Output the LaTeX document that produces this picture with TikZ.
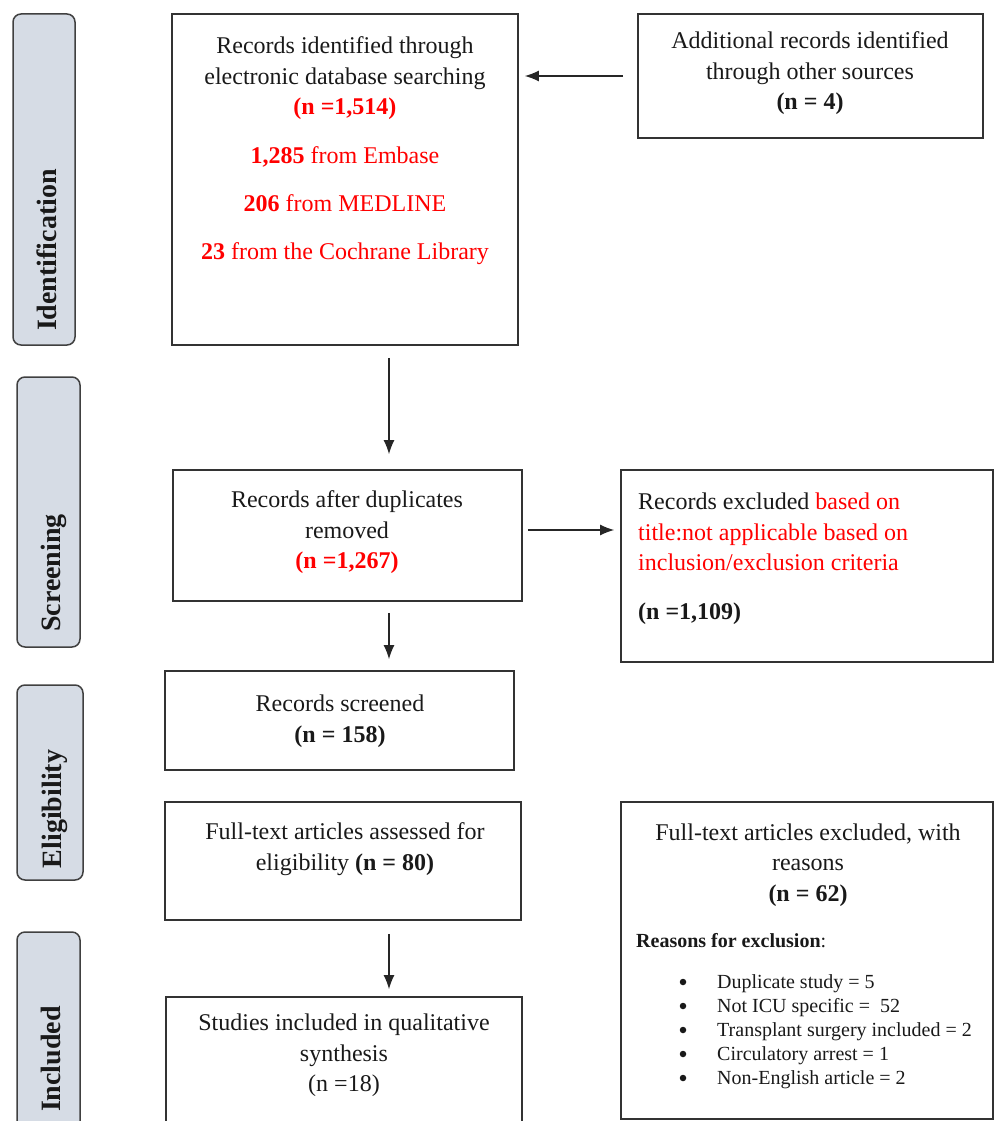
\documentclass[tikz,border=0pt]{standalone}
\usepackage{fontspec}
\setmainfont{Liberation Serif}
\usetikzlibrary{arrows.meta}
\definecolor{tabfill}{HTML}{D6DCE5}
\begin{document}
\begin{tikzpicture}
[
 x=1pt, y=-1pt,
 inner sep=0pt,
 TAB/.style={rectangle, rounded corners=8pt, draw=black!75, fill=tabfill, line width=1.5pt},
 BOX/.style={rectangle, draw=black!80, line width=1.6pt},
 TXT/.style={align=center, font=\fontsize{24}{30.5}\selectfont, text=black!90},
 TABTXT/.style={rotate=90, font=\fontsize{28}{34}\selectfont\bfseries, text=black!90},
 SMALL/.style={anchor=west, font=\fontsize{20}{24}\selectfont, text=black!90},
 DOT/.style={circle, fill=black!90, minimum size=6.5pt},
 ARR/.style={-{Latex[length=14pt,width=11pt]}, line width=1.4pt, draw=black!85},
]
%
\useasboundingbox (0,0) rectangle (994,1121);
\clip (0,0) rectangle (994,1121);
%
\node [TAB, minimum width=62pt, minimum height=331pt]  (tabI) at ( 44, 179.5) {};
\node [TAB, minimum width=63pt, minimum height=270pt]  (tabS) at ( 48.5, 512) {};
\node [TAB, minimum width=66pt, minimum height=195pt]  (tabE) at ( 50, 782.5) {};
\node [TAB, minimum width=63pt, minimum height=210pt]  (tabN) at ( 48.5, 1037) {};
%
\node [TABTXT]  (lblI) at ( 47, 250)  {Identification};
\node [TABTXT]  (lblS) at ( 54, 573)  {Screening};
\node [TABTXT]  (lblE) at ( 55, 809)  {Eligibility};
\node [TABTXT]  (lblN) at ( 51, 1059) {Included};
%
\node [BOX, minimum width=346pt, minimum height=331pt]  (ident)  at ( 345, 179.5)  {};
\node [BOX, minimum width=345pt, minimum height=124pt]  (other)  at ( 810.5, 76)   {};
\node [BOX, minimum width=349pt, minimum height=131pt]  (dedup)  at ( 347.5, 535.5) {};
\node [BOX, minimum width=372pt, minimum height=192pt]  (excl)   at ( 807, 566)     {};
\node [BOX, minimum width=349pt, minimum height=99pt]   (screen) at ( 339.5, 720.5) {};
\node [BOX, minimum width=356pt, minimum height=118pt]  (full)   at ( 343, 861)     {};
\node [BOX, minimum width=356pt, minimum height=143pt]  (incl)   at ( 344, 1068.5)  {};
\node [BOX, minimum width=372pt, minimum height=317pt]  (fullex) at ( 807, 960.5)   {};
%
\node [TXT]  (identT)  at ( 345, 150.5)  {Records identified through\\electronic database searching\\
   \textcolor{red}{\bfseries (n =1,514)}\\[18pt]
   \textcolor{red}{\bfseries 1,285} \textcolor{red}{from Embase}\\[17.5pt]
   \textcolor{red}{\bfseries 206} \textcolor{red}{from MEDLINE}\\[17.5pt]
   \textcolor{red}{\bfseries 23} \textcolor{red}{from the Cochrane Library}};
\node [TXT]  (otherT)  at ( 810, 73.5)  {Additional records identified\\through other sources\\\textbf{(n = 4)}};
\node [TXT]  (dedupT)  at ( 347, 532.5) {Records after duplicates\\removed\\\textcolor{red}{\bfseries (n =1,267)}};
\node [TXT, align=left, anchor=west]  (exclT)  at ( 638, 558.5) {Records excluded \textcolor{red}{based on}\\
   \textcolor{red}{title:not applicable based on}\\
   \textcolor{red}{inclusion/exclusion criteria}\\[18pt]
   \textbf{(n =1,109)}};
\node [TXT]  (screenT) at ( 340, 721)   {Records screened\\\textbf{(n = 158)}};
\node [TXT]  (fullT)   at ( 345, 849)   {Full-text articles assessed for\\eligibility \textbf{(n = 80)}};
\node [TXT]  (inclT)   at ( 344, 1055.5) {Studies included in qualitative\\synthesis\\(n =18)};
\node [TXT]  (fullexT) at ( 808, 865)   {Full-text articles excluded, with\\reasons\\\textbf{(n = 62)}};
%
\node [SMALL]  (reasons) at ( 636, 941)  {\textbf{Reasons for exclusion}:};
\foreach \txt [count=\i] in {Duplicate study = 5, Not ICU specific =\ \ 52, Transplant surgery included = 2, Circulatory arrest = 1, Non-English article = 2}
   {
     \node [DOT]    (dot\i)  at ( 683, 958+24*\i)  {};
     \node [SMALL]  (item\i) at ( 717, 960+24*\i)  {\txt};
   }
%
\coordinate (ax) at (389,0);
\coordinate (ay) at (0,530);
%
\draw [ARR, shorten <=14pt, shorten >=6pt]   (other.west) -- (other.west -| ident.east);
\draw [ARR, shorten <=12pt, shorten >=15pt]  (ident.south -| ax) -- (dedup.north -| ax);
\draw [ARR, shorten <=5pt, shorten >=6pt]    (dedup.east |- ay) -- (excl.west |- ay);
\draw [ARR, shorten <=11pt, shorten >=11pt]  (dedup.south -| ax) -- (screen.north -| ax);
\draw [ARR, shorten <=13pt, shorten >=7pt]   (full.south -| ax) -- (incl.north -| ax);
%
\end{tikzpicture}
\end{document}
